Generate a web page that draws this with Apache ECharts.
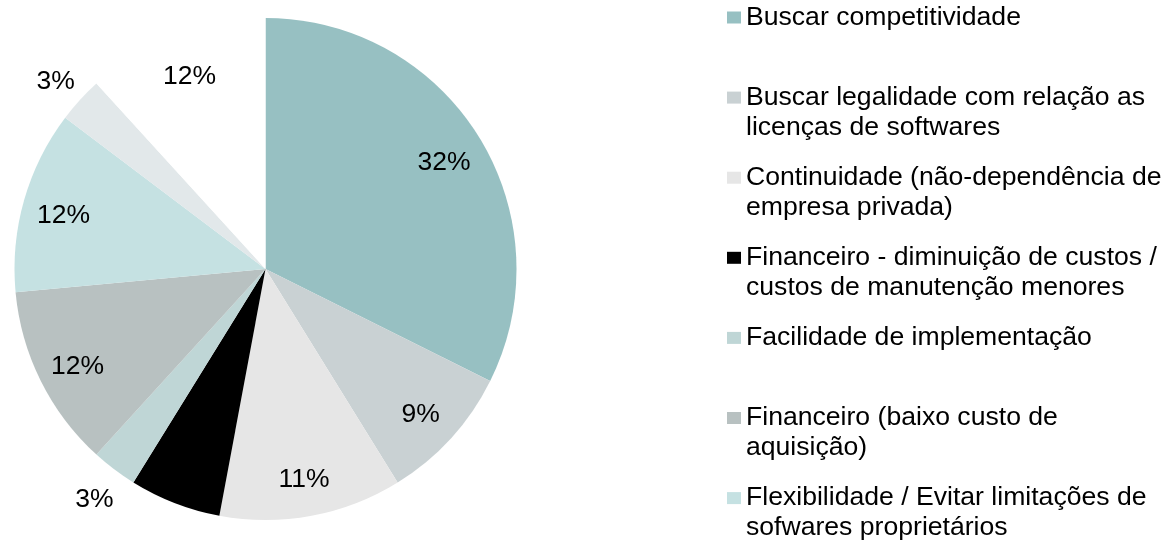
<!DOCTYPE html>
<html><head><meta charset="utf-8">
<script src="https://cdn.jsdelivr.net/npm/echarts@6/dist/echarts.min.js"></script>
<style>html,body{margin:0;padding:0;background:#fff}#c{width:1168px;height:545px}</style>
</head><body><div id="c"></div>
<script>
// ---- data ----
const categories = [
  'Buscar competitividade',
  'Buscar legalidade com relação as licenças de softwares',
  'Continuidade (não-dependência de empresa privada)',
  'Financeiro - diminuição de custos / custos de manutenção menores',
  'Facilidade de implementação',
  'Financeiro (baixo custo de aquisição)',
  'Flexibilidade / Evitar limitações de sofwares proprietários',
  'Outros A',
  'Outros B'
];
const counts = [11, 3, 4, 2, 1, 4, 4, 1, 4];
const percentLabels = ['32%', '9%', '11%', '6%', '3%', '12%', '12%', '3%', '12%'];
const legendLines = [
  ['Buscar competitividade'],
  ['Buscar legalidade com relação as', 'licenças de softwares'],
  ['Continuidade (não-dependência de', 'empresa privada)'],
  ['Financeiro - diminuição de custos /', 'custos de manutenção menores'],
  ['Facilidade de implementação'],
  ['Financeiro (baixo custo de', 'aquisição)'],
  ['Flexibilidade / Evitar limitações de', 'sofwares proprietários']
];

// ---- styles / layout ----
const colors = ['#97C0C2', '#C9D1D3', '#E6E6E6', '#000000', '#BFD6D6', '#B8C1C1', '#C5E1E2', '#E2E8EA', '#FFFFFF'];
const FONT = '"Liberation Sans", Arial, sans-serif';
const CENTER = [265.5, 269];
const R = 251;
const LEGEND_TOP0 = 17.5, LEGEND_STEP = 80.1, LH = 30;

const total = counts.reduce((a, b) => a + b, 0);
const isSmall = i => counts[i] / total < 0.05;

const legends = legendLines.map((lines, i) => ({
  show: true,
  data: [categories[i]],
  orient: 'vertical',
  left: 727,
  top: LEGEND_TOP0 + LEGEND_STEP * i - 1.5 * LH,
  padding: 0,
  itemWidth: 14,
  itemHeight: 12,
  icon: 'rect',
  selectedMode: false,
  formatter: () => '\n' + lines.join('\n') + (lines.length === 1 ? '\n' : ''),
  textStyle: { fontFamily: FONT, fontSize: 26.6, lineHeight: LH, color: '#000' }
}));

function labelSeries(radius, showFn) {
  return {
    type: 'pie',
    silent: true,
    radius: radius,
    center: CENTER,
    startAngle: 90,
    clockwise: true,
    emphasis: { disabled: true },
    labelLine: { show: false },
    label: {
      position: 'inside',
      color: '#000',
      fontSize: 26.5,
      fontFamily: FONT,
      offset: [0, 4],
      formatter: p => percentLabels[p.dataIndex]
    },
    itemStyle: { color: 'rgba(0,0,0,0)', borderWidth: 0 },
    data: categories.map((n, i) => ({
      name: n, value: counts[i],
      itemStyle: { color: 'rgba(0,0,0,0)' },
      label: { show: showFn(i) }
    }))
  };
}

const option = {
  animation: false,
  backgroundColor: '#fff',
  legend: legends,
  series: [
    {
      type: 'pie',
      radius: [0, R],
      center: CENTER,
      startAngle: 90,
      clockwise: true,
      emphasis: { disabled: true },
      label: { show: false },
      labelLine: { show: false },
      itemStyle: { borderWidth: 0 },
      data: categories.map((n, i) => ({ name: n, value: counts[i], itemStyle: { color: colors[i] } }))
    },
    labelSeries([166, 248], i => !isSmall(i)),
    labelSeries([252, 310], i => isSmall(i))
  ]
};

const chart = echarts.init(document.getElementById('c'), null, { renderer: 'canvas' });
chart.setOption(option);
</script>
</body></html>
